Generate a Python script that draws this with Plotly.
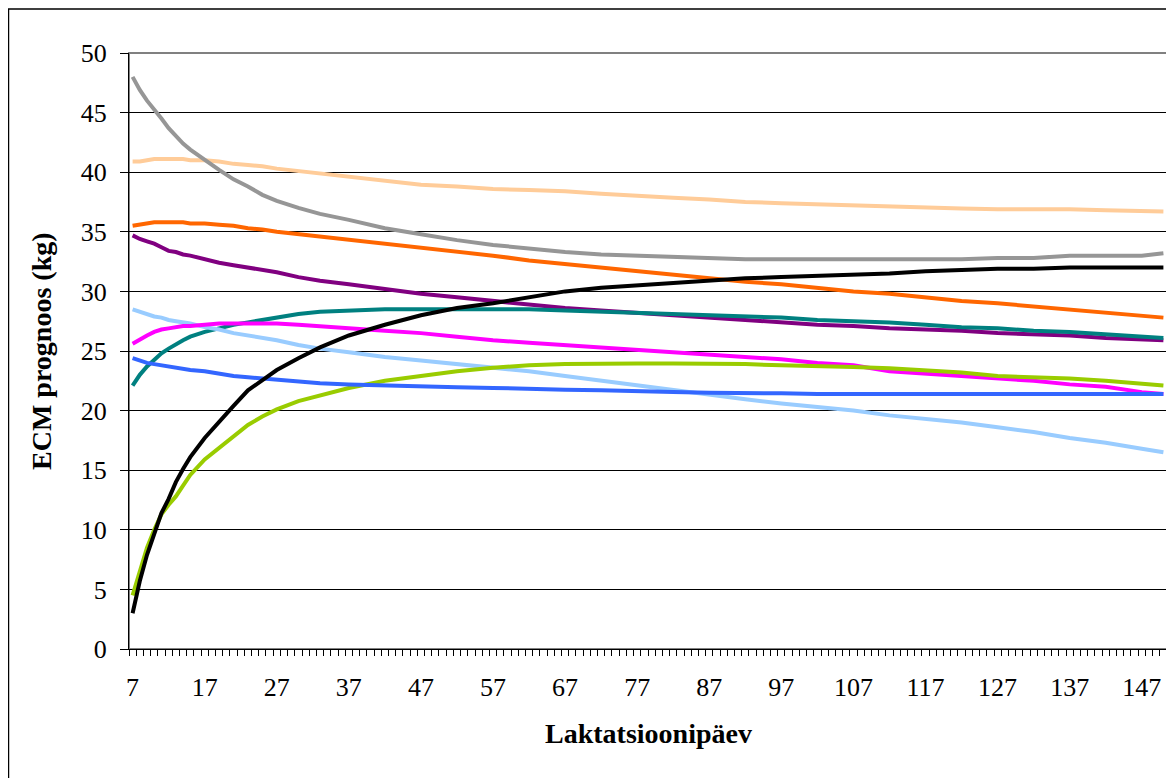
import plotly.graph_objects as go

days = [7, 8, 9, 10, 11, 12, 13, 14, 15, 17, 19, 21, 23, 25, 27, 30, 33, 37, 42, 47, 52, 57, 62, 67,
        72, 77, 82, 87, 92, 97, 102, 107, 112, 117, 122, 127, 132, 137, 142, 147, 150]

gray = [48.0, 46.9, 46.0, 45.3, 44.5, 43.7, 43.0, 42.4, 41.9, 41.0, 40.2, 39.4, 38.8, 38.1, 37.6, 37.0,
        36.5, 36.0, 35.3, 34.8, 34.3, 33.9, 33.6, 33.3, 33.1, 33.0, 32.9, 32.8, 32.7, 32.7, 32.7, 32.7,
        32.7, 32.7, 32.7, 32.8, 32.8, 33.0, 33.0, 33.0, 33.2]
peach = [40.9, 40.9, 41.0, 41.1, 41.1, 41.1, 41.1, 41.1, 41.0, 41.0, 40.9, 40.7, 40.6, 40.5, 40.3, 40.1,
         39.9, 39.6, 39.3, 38.95, 38.8, 38.6, 38.5, 38.4, 38.2, 38.0, 37.85, 37.7, 37.5, 37.4, 37.3, 37.2,
         37.1, 37.05, 36.95, 36.9, 36.9, 36.9, 36.8, 36.7, 36.7]
orange = [35.5, 35.6, 35.7, 35.8, 35.8, 35.8, 35.8, 35.8, 35.7, 35.7, 35.6, 35.5, 35.3, 35.2, 35.0, 34.8,
          34.6, 34.3, 34.0, 33.7, 33.3, 33.0, 32.6, 32.3, 32.0, 31.7, 31.4, 31.1, 30.8, 30.6, 30.3, 30.0,
          29.8, 29.5, 29.2, 29.0, 28.75, 28.5, 28.25, 27.95, 27.8]
purple = [34.7, 34.4, 34.2, 34.0, 33.7, 33.4, 33.3, 33.1, 33.0, 32.7, 32.4, 32.2, 32.0, 31.8, 31.6, 31.2,
          30.9, 30.6, 30.2, 29.8, 29.5, 29.2, 28.9, 28.6, 28.4, 28.2, 28.0, 27.8, 27.6, 27.4, 27.2, 27.1,
          26.9, 26.8, 26.7, 26.5, 26.4, 26.3, 26.1, 26.0, 25.9]
teal = [22.1, 23.0, 23.7, 24.3, 24.8, 25.2, 25.6, 25.9, 26.2, 26.6, 26.9, 27.2, 27.4, 27.6, 27.8, 28.1,
        28.3, 28.4, 28.5, 28.5, 28.5, 28.5, 28.5, 28.4, 28.3, 28.2, 28.1, 28.0, 27.9, 27.8, 27.6, 27.5,
        27.4, 27.2, 27.0, 26.9, 26.7, 26.6, 26.4, 26.2, 26.1]
black = [3.0, 5.7, 7.9, 9.6, 11.4, 12.6, 14.0, 15.1, 16.1, 17.7, 19.1, 20.4, 21.7, 22.6, 23.4, 24.4,
         25.3, 26.3, 27.2, 28.0, 28.6, 29.0, 29.5, 30.0, 30.3, 30.5, 30.7, 30.95, 31.1, 31.2, 31.3, 31.4,
         31.5, 31.7, 31.8, 31.9, 31.9, 32.0, 32.0, 32.0, 32.0]
green = [4.5, 6.6, 8.5, 10.0, 11.3, 12.1, 12.8, 13.7, 14.6, 15.9, 16.9, 17.9, 18.8, 19.5, 20.1, 20.8,
         21.3, 21.9, 22.5, 22.9, 23.3, 23.6, 23.8, 23.9, 23.95, 23.95, 23.95, 23.95, 23.9, 23.8, 23.75,
         23.65, 23.55, 23.4, 23.2, 22.9, 22.8, 22.7, 22.5, 22.3, 22.1]
magenta = [25.6, 26.0, 26.3, 26.6, 26.8, 26.9, 27.0, 27.1, 27.1, 27.2, 27.3, 27.3, 27.3, 27.3, 27.3, 27.2,
           27.1, 26.9, 26.7, 26.5, 26.2, 25.9, 25.7, 25.5, 25.3, 25.1, 24.9, 24.7, 24.5, 24.3, 24.0, 23.8,
           23.3, 23.1, 22.9, 22.7, 22.5, 22.2, 22.0, 21.55, 21.4]
blue = [24.4, 24.2, 24.0, 23.9, 23.8, 23.7, 23.6, 23.5, 23.4, 23.3, 23.1, 22.9, 22.8, 22.7, 22.6, 22.4,
        22.3, 22.2, 22.1, 22.0, 21.95, 21.9, 21.8, 21.75, 21.7, 21.6, 21.55, 21.5, 21.5, 21.45, 21.4, 21.4,
        21.4, 21.4, 21.4, 21.4, 21.4, 21.4, 21.4, 21.4, 21.4]
lightblue = [28.5, 28.3, 28.1, 27.9, 27.8, 27.6, 27.5, 27.4, 27.3, 27.0, 26.8, 26.5, 26.3, 26.1, 25.9, 25.5,
             25.2, 24.9, 24.5, 24.2, 23.9, 23.6, 23.3, 22.9, 22.5, 22.1, 21.7, 21.3, 20.95, 20.6, 20.3, 20.0,
             19.6, 19.3, 19.0, 18.6, 18.2, 17.7, 17.3, 16.8, 16.5]

series = [
    (peach, "#FFCC99"), (gray, "#969696"), (orange, "#FF6600"), (purple, "#800080"),
    (teal, "#008080"), (lightblue, "#99CCFF"), (magenta, "#FF00FF"), (green, "#99CC00"),
    (blue, "#3366FF"), (black, "#000000"),
]

x_title = "Laktatsioonipäev"
y_title = "ECM prognoos (kg)"
tick_labels = [str(v) for v in range(7, 148, 10)]
cat_bounds = [6.5 + i for i in range(145)]

fig = go.Figure()
for vals, col in series:
    fig.add_trace(go.Scatter(x=days, y=vals, mode="lines",
                             line=dict(color=col, width=4), showlegend=False))

font = "Liberation Serif, Times New Roman, serif"
fig.update_layout(
    width=1174, height=778,
    margin=dict(l=121, r=15, t=45, b=137),
    paper_bgcolor="white", plot_bgcolor="white",
    font=dict(family=font, color="black", size=26),
    xaxis=dict(
        range=[6.5, 150.5], tickmode="array",
        tickvals=[int(t) for t in tick_labels], ticktext=tick_labels,
        ticks="", showgrid=False, zeroline=False,
        showline=True, linecolor="black", linewidth=1,
        ticklabelstandoff=15,
        tickfont=dict(family=font, size=26),
        minor=dict(tickmode="array", tickvals=cat_bounds, ticks="outside",
                   ticklen=6, tickcolor="black", tickwidth=1, showgrid=False),
    ),
    yaxis=dict(
        range=[0, 50], tickmode="linear", tick0=0, dtick=5,
        ticks="outside", ticklen=8, tickcolor="black", tickwidth=1,
        showgrid=True, gridcolor="black", gridwidth=1, zeroline=False,
        showline=True, linecolor="black", linewidth=1,
        tickfont=dict(family=font, size=26), ticklabelstandoff=8,
    ),
    annotations=[
        dict(text="<b>" + x_title + "</b>", xref="paper", yref="paper", x=0.5, y=-0.141,
             xanchor="center", yanchor="middle", showarrow=False,
             font=dict(family=font, size=28, color="black")),
        dict(text="<b>" + y_title + "</b>", xref="paper", yref="paper", x=-0.0848, y=0.5,
             xanchor="center", yanchor="middle", showarrow=False, textangle=-90,
             font=dict(family=font, size=28, color="black")),
    ],
    shapes=[
        dict(type="rect", xref="paper", yref="paper", x0=0, x1=1, y0=0, y1=1,
             line=dict(color="#808080", width=2), layer="below"),
        dict(type="rect", xref="paper", yref="paper", x0=-0.1161, x1=1.2, y0=-0.4, y1=1.0738,
             line=dict(color="black", width=1.5), layer="below"),
    ],
)

fig.write_html("out.html")
